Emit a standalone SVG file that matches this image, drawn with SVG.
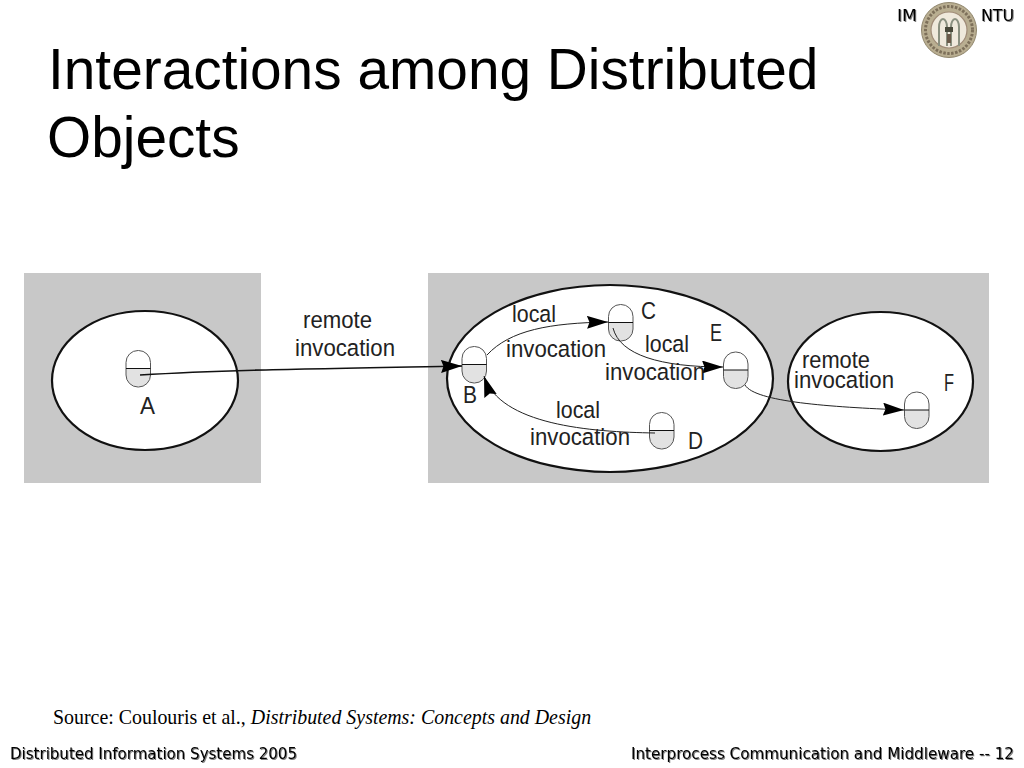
<svg xmlns="http://www.w3.org/2000/svg" width="1024" height="768" viewBox="0 0 1024 768">
<style>
.t{font-family:"Liberation Sans",Arial,sans-serif;fill:#000}
.title{font-size:56.800px}
.d{font-size:24.500px;fill:#222;font-family:"Liberation Sans",Arial,sans-serif}
.bub{fill:#fff;stroke:#111;stroke-width:2.200}
.c{fill:none;stroke:#222;stroke-width:1}
.cap{fill:none;stroke:#555;stroke-width:1}
.low{fill:#e2e2e2}
.div{stroke:#111;stroke-width:1}
.foot{font-size:16.700px;font-family:"DejaVu Sans Condensed","DejaVu Sans",sans-serif;font-stretch:condensed;fill:#000;filter:url(#sh)}
.src{font-size:19.900px;font-family:"Liberation Serif","Times New Roman",serif;fill:#000}
</style>
<defs>
<filter id="sh" x="-5%" y="-30%" width="110%" height="170%"><feDropShadow dx="1" dy="1" stdDeviation="0.7" flood-color="#000" flood-opacity="0.5"/></filter>
<filter id="soft"><feGaussianBlur stdDeviation="0.6"/></filter>
<marker id="ah" viewBox="0 0 21 13" refX="21" refY="6.500" markerWidth="21" markerHeight="13" markerUnits="userSpaceOnUse" orient="auto"><path d="M0 0 L21 6.500 L0 13 L2.500 6.500 Z" fill="#000"/></marker>
<g id="capsule">
<path class="low" d="M0 18 H24.500 V24 A12.250 12.250 0 0 1 0 24 Z"/>
<rect class="cap" x="0" y="0" width="24.500" height="36.500" rx="12" ry="12"/>
<line class="div" x1="0" y1="18" x2="24.500" y2="18"/>
</g>
</defs>
<rect width="1024" height="768" fill="#fff"/>
<g id="title"><text class="t title" x="48" y="89">Interactions among Distributed</text><text class="t title" x="47" y="157">Objects</text></g>
<g id="logo">
<text class="foot" x="897" y="21" textLength="20" lengthAdjust="spacingAndGlyphs">IM</text>
<text class="foot" x="981" y="21" textLength="33" lengthAdjust="spacingAndGlyphs">NTU</text>
<g filter="url(#soft)">
<circle cx="949" cy="30" r="27.500" fill="#b9ae91" stroke="#8f856c" stroke-width="1"/>
<circle cx="949" cy="30" r="23.500" fill="none" stroke="#7d6f5a" stroke-width="3" stroke-dasharray="2.500 1.500"/>
<circle cx="949" cy="30" r="18" fill="#efe9dc" stroke="#a08c78" stroke-width="1.200"/>
<path d="M939 46 V27 A4 8 0 0 1 947 27 V46 M951 46 V27 A4 8 0 0 1 959 27 V46" fill="none" stroke="#8a9080" stroke-width="2"/>
<rect x="945" y="27" width="8" height="5" fill="#4a4a3a"/>
<rect x="947" y="34" width="4" height="9" fill="#6a5a48"/>
</g>
</g>
<g id="panels"><rect x="24" y="273" width="237" height="210" fill="#c8c8c8"/><rect x="428" y="273" width="561" height="210" fill="#c8c8c8"/></g>
<g id="process-1"><ellipse class="bub" cx="145" cy="380.500" rx="93" ry="69.500"/></g>
<g id="process-2"><ellipse class="bub" cx="610" cy="378.500" rx="163" ry="93.500"/></g>
<g id="process-3"><ellipse class="bub" cx="880.500" cy="381.500" rx="92.500" ry="69.500"/></g>
<g id="node-A"><use href="#capsule" x="126" y="350.500"/><text class="d" x="140" y="414" textLength="15" lengthAdjust="spacingAndGlyphs">A</text></g>
<g id="node-B"><use href="#capsule" x="462" y="346.500"/><text class="d" x="463" y="403" textLength="14" lengthAdjust="spacingAndGlyphs">B</text></g>
<g id="node-C"><use href="#capsule" x="608.500" y="304.500"/><text class="d" x="641" y="319" textLength="15" lengthAdjust="spacingAndGlyphs">C</text></g>
<g id="node-D"><use href="#capsule" x="649.500" y="412.500"/><text class="d" x="688" y="449" textLength="15" lengthAdjust="spacingAndGlyphs">D</text></g>
<g id="node-E"><use href="#capsule" x="723.500" y="352"/><text class="d" x="710" y="341" textLength="12" lengthAdjust="spacingAndGlyphs">E</text></g>
<g id="node-F"><use href="#capsule" x="904.500" y="392"/><text class="d" x="944" y="391" textLength="10" lengthAdjust="spacingAndGlyphs">F</text></g>
<g id="connectors">
<path class="c" style="stroke-width:1.600;stroke:#111" marker-end="url(#ah)" d="M140 375 C220 370 300 369 462 366"/>
<path class="c" marker-end="url(#ah)" d="M487 355 C510 330 550 323 608 322"/>
<path class="c" marker-end="url(#ah)" d="M613 328 C620 355 660 367 723 367"/>
<path class="c" marker-end="url(#ah)" d="M655 433 C590 432 500 425 484 376"/>
<path class="c" marker-end="url(#ah)" d="M745 385 C755 402 830 407 904 410"/>
</g>
<g id="labels" lengthAdjust="spacingAndGlyphs">
<text class="d" x="303" y="328" textLength="69" lengthAdjust="spacingAndGlyphs">remote</text><text class="d" x="295" y="356" textLength="100" lengthAdjust="spacingAndGlyphs">invocation</text>
<text class="d" x="512" y="322" textLength="44" lengthAdjust="spacingAndGlyphs">local</text><text class="d" x="506" y="357" textLength="100" lengthAdjust="spacingAndGlyphs">invocation</text>
<text class="d" x="645" y="352" textLength="44" lengthAdjust="spacingAndGlyphs">local</text><text class="d" x="605" y="380" textLength="100" lengthAdjust="spacingAndGlyphs">invocation</text>
<text class="d" x="556" y="418" textLength="44" lengthAdjust="spacingAndGlyphs">local</text><text class="d" x="530" y="445" textLength="100" lengthAdjust="spacingAndGlyphs">invocation</text>
<text class="d" x="802" y="368" textLength="68" lengthAdjust="spacingAndGlyphs">remote</text><text class="d" x="794" y="388" textLength="100" lengthAdjust="spacingAndGlyphs">invocation</text>
</g>
<text class="src" x="53" y="723.500">Source: Coulouris et al., <tspan font-style="italic">Distributed Systems: Concepts and Design</tspan></text>
<text class="foot" x="10" y="759" textLength="287" lengthAdjust="spacingAndGlyphs">Distributed Information Systems 2005</text>
<text class="foot" x="631" y="759" textLength="383" lengthAdjust="spacingAndGlyphs">Interprocess Communication and Middleware -- 12</text>
</svg>
